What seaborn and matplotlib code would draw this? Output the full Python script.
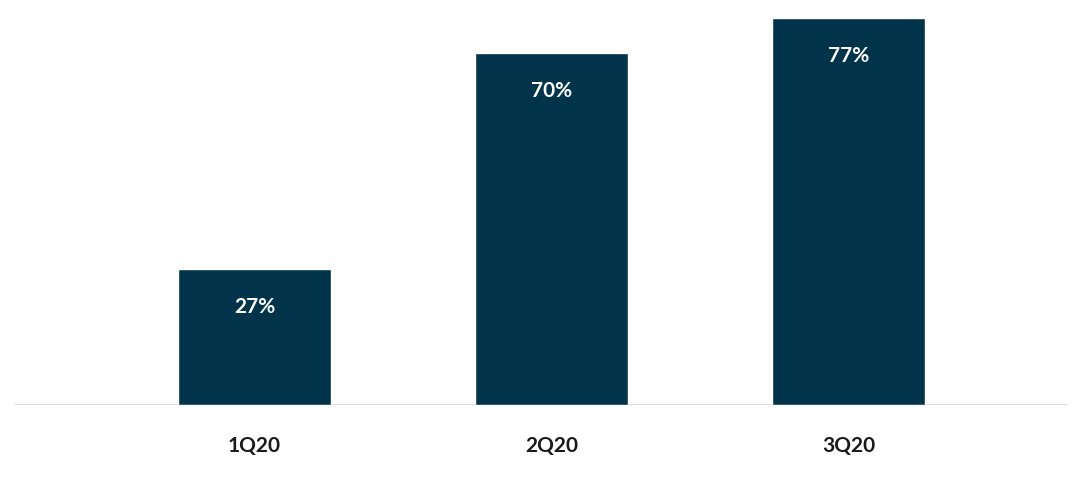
import matplotlib
matplotlib.use("Agg")
import matplotlib.pyplot as plt
import seaborn as sns
import pandas as pd

# Chart data
quarters = ["1Q20", "2Q20", "3Q20"]
shares = [27, 70, 77]
labels = ["27%", "70%", "77%"]

df = pd.DataFrame({"quarter": quarters, "share": shares})

sns.set_style("white")
plt.rcParams["font.family"] = ["Lato", "DejaVu Sans"]

fig = plt.figure(figsize=(10.8, 4.78), dpi=100)
ax = fig.add_axes([15 / 1080, 73 / 478, 1053 / 1080, 405 / 478])

sns.barplot(data=df, x="quarter", y="share", color="#01344a",
            width=0.515, saturation=1, ax=ax)

ax.set_xlim(-0.806, 2.739)
ax.set_ylim(0, 80.6)

# value labels inside the bars
for i, (v, lab) in enumerate(zip(shares, labels)):
    ax.annotate(lab, xy=(i, v), xytext=(0, -27), textcoords="offset points",
                ha="center", va="center", color="white",
                fontsize=15, fontweight="bold")

ax.axhline(0, color="#d9d9d9", lw=1.5, zorder=0)
for s in ax.spines.values():
    s.set_visible(False)
ax.set_yticks([])
ax.set_xlabel("")
ax.set_ylabel("")
ax.tick_params(axis="x", length=0, pad=22, labelsize=15, labelcolor="#1a1a1a")
for t in ax.get_xticklabels():
    t.set_fontweight("bold")

fig.savefig("out.png", dpi=100)
